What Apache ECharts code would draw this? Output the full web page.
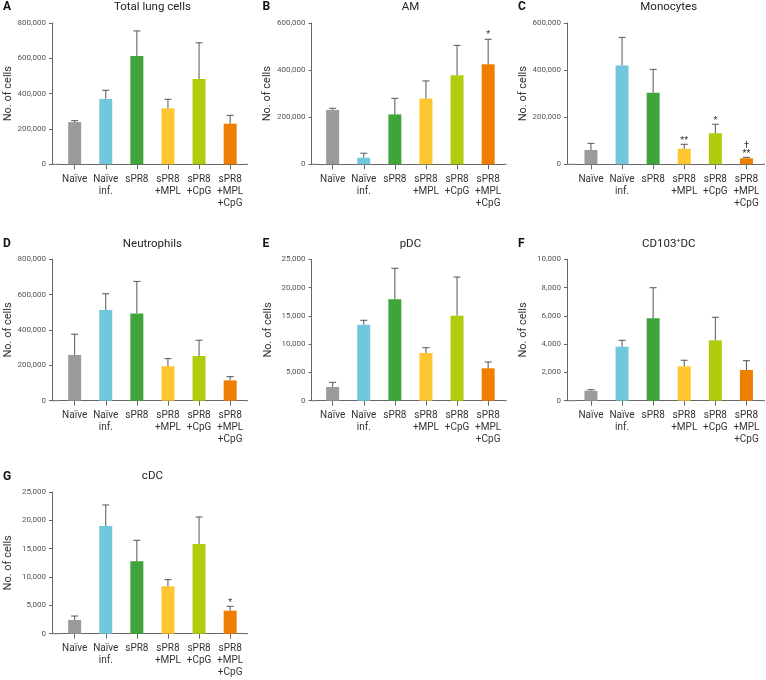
<!DOCTYPE html>
<html><head><meta charset="utf-8">
<script src="https://cdn.jsdelivr.net/npm/echarts@6/dist/echarts.min.js"></script>
<style>html,body{margin:0;padding:0;background:#fff}#c{width:766px;height:680px}</style>
</head><body><div id="c"></div>
<script>
// ---- data ----
const categories = ['Naïve', 'Naïve\ninf.', 'sPR8', 'sPR8\n+MPL', 'sPR8\n+CpG', 'sPR8\n+MPL\n+CpG'];
const barColors = ['#9b9b9b', '#71c8dc', '#3fa53a', '#fec631', '#b1cb0d', '#ef7f00'];

const totalLungMean = [239000, 370000, 613000, 317000, 483000, 230000];
const totalLungSD   = [8000, 49000, 142000, 51000, 205000, 47000];
const amMean        = [231000, 28000, 212000, 279000, 378000, 425000];
const amSD          = [7000, 19000, 68000, 75000, 127000, 106000];
const monoMean      = [61000, 420000, 304000, 66000, 132000, 25500];
const monoSD        = [28000, 119000, 99000, 19000, 38000, 4000];
const neutroMean    = [259000, 513000, 494000, 195000, 253000, 115000];
const neutroSD      = [117000, 92000, 181000, 43000, 89000, 21000];
const pdcMean       = [2420, 13440, 17930, 8430, 15030, 5730];
const pdcSD         = [830, 780, 5480, 940, 6840, 1110];
const cd103Mean     = [707, 3820, 5830, 2430, 4270, 2170];
const cd103SD       = [70, 450, 2160, 430, 1630, 660];
const cdcMean       = [2420, 19000, 12770, 8360, 15830, 4060];
const cdcSD         = [700, 3710, 3710, 1170, 4760, 770];

const noMarks    = ['', '', '', '', '', ''];
const amMarks    = ['', '', '', '', '', '*'];
const monoMarks  = ['', '', '', '**', '*', '†\n**'];
const cdcMarks   = ['', '', '', '', '', '*'];

const yMaxA = 800000, yMaxB = 600000, yMaxC = 600000, yMaxD = 800000, yMaxE = 25000, yMaxF = 10000, yMaxG = 25000;
const yStepA = 200000, yStepB = 200000, yStepC = 200000, yStepD = 200000, yStepE = 5000, yStepF = 2000, yStepG = 5000;

const panels = [
  {letter: 'A', title: 'Total lung cells', mean: totalLungMean, sd: totalLungSD, marks: noMarks, max: yMaxA, step: yStepA, col: 0, row: 0},
  {letter: 'B', title: 'AM', mean: amMean, sd: amSD, marks: amMarks, max: yMaxB, step: yStepB, col: 1, row: 0},
  {letter: 'C', title: 'Monocytes', mean: monoMean, sd: monoSD, marks: monoMarks, max: yMaxC, step: yStepC, col: 2, row: 0},
  {letter: 'D', title: 'Neutrophils', mean: neutroMean, sd: neutroSD, marks: noMarks, max: yMaxD, step: yStepD, col: 0, row: 1},
  {letter: 'E', title: 'pDC', mean: pdcMean, sd: pdcSD, marks: noMarks, max: yMaxE, step: yStepE, col: 1, row: 1},
  {letter: 'F', title: 'CD103{sup|+}DC', mean: cd103Mean, sd: cd103SD, marks: noMarks, max: yMaxF, step: yStepF, col: 2, row: 1},
  {letter: 'G', title: 'cDC', mean: cdcMean, sd: cdcSD, marks: cdcMarks, max: yMaxG, step: yStepG, col: 0, row: 2}
];

// ---- layout ----
const FONT = 'Roboto, "Noto Sans", sans-serif';
const catW = 31.1;
const colX = [
  {axis: 52, left: 59.1, end: 248},
  {axis: 311.5, left: 317.1, end: 506.7},
  {axis: 567, left: 575.4, end: 765}
];
const rowY = [
  {top: 23, zero: 164.3, head: 7},
  {top: 259.3, zero: 400.7, head: 244},
  {top: 492, zero: 633.7, head: 476.5}
];
const AXIS = '#666';

const chart = echarts.init(document.getElementById('c'), null, {renderer: 'canvas'});
const grid = [], xAxis = [], yAxis = [], series = [], graphic = [];

function fmt(v) { return String(v).replace(/\B(?=(\d{3})+(?!\d))/g, ','); }

panels.forEach((p, k) => {
  const c = colX[p.col], r = rowY[p.row];
  const h = r.zero - r.top;
  grid.push({left: c.left, top: r.top, width: catW * 6, height: h, containLabel: false});
  xAxis.push({
    type: 'category', gridIndex: k, data: categories,
    axisLine: {show: true, lineStyle: {color: AXIS, width: 1}},
    axisTick: {show: true, alignWithLabel: true, length: 5, lineStyle: {color: AXIS}},
    axisLabel: {interval: 0, margin: 9, fontSize: 10, lineHeight: 12, color: '#333', fontFamily: FONT}
  });
  yAxis.push({
    type: 'value', gridIndex: k, min: 0, max: p.max, interval: p.step,
    offset: c.left - c.axis,
    splitLine: {show: false},
    axisLine: {show: true, lineStyle: {color: AXIS, width: 1}},
    axisTick: {show: true, length: 3, lineStyle: {color: AXIS}},
    axisLabel: {fontSize: 8, color: '#555', margin: 6, fontFamily: FONT, formatter: fmt},
    name: 'No. of cells', nameLocation: 'middle', nameGap: 38,
    nameTextStyle: {fontSize: 11, color: '#333', fontFamily: FONT}
  });
  series.push({
    type: 'bar', xAxisIndex: k, yAxisIndex: k, barWidth: 13,
    data: p.mean.map((v, i) => ({value: v, itemStyle: {color: barColors[i]}})),
    z: 2
  });
  const marks = p.marks;
  series.push({
    type: 'custom', xAxisIndex: k, yAxisIndex: k, z: 3,
    data: p.mean.map((v, i) => [i, v, v + p.sd[i]]),
    encode: {x: 0, y: [1, 2]},
    renderItem: function (params, api) {
      const i = api.value(0);
      const p0 = api.coord([i, api.value(1)]);
      const p1 = api.coord([i, api.value(2)]);
      const cap = 3.5;
      const ch = [
        {type: 'line', shape: {x1: p0[0], y1: p0[1], x2: p1[0], y2: p1[1]}, style: {stroke: '#555', lineWidth: 1}},
        {type: 'line', shape: {x1: p1[0] - cap, y1: p1[1], x2: p1[0] + cap, y2: p1[1]}, style: {stroke: '#555', lineWidth: 1}}
      ];
      const m = marks[i];
      if (m) {
        const lines = m.split('\n').reverse();
        lines.forEach((t, j) => {
          ch.push({type: 'text', x: p1[0], y: p1[1] - 4 - j * 8,
            style: {text: t, textAlign: 'center', textVerticalAlign: 'middle', fill: '#333', font: '9px ' + FONT}});
        });
      }
      return {type: 'group', children: ch};
    }
  });
  // axis line extensions
  graphic.push({type: 'line', shape: {x1: c.axis, y1: r.zero, x2: c.left, y2: r.zero}, style: {stroke: AXIS, lineWidth: 1}, silent: true});
  graphic.push({type: 'line', shape: {x1: c.left + catW * 6, y1: r.zero, x2: c.end, y2: r.zero}, style: {stroke: AXIS, lineWidth: 1}, silent: true});
  // panel letter & title
  graphic.push({type: 'text', x: c.axis - 49, y: r.head, style: {text: p.letter, font: 'bold 12px ' + FONT, fill: '#111', textVerticalAlign: 'middle'}});
  graphic.push({type: 'text', x: c.left + catW * 3, y: r.head, style: {
    text: p.title, font: '11.5px ' + FONT, fill: '#222', textAlign: 'center', textVerticalAlign: 'middle',
    rich: {sup: {fontSize: 7, verticalAlign: 'top', fill: '#222', fontFamily: FONT}}
  }});
});

chart.setOption({
  animation: false,
  backgroundColor: '#fff',
  grid, xAxis, yAxis, series, graphic
});
</script></body></html>
